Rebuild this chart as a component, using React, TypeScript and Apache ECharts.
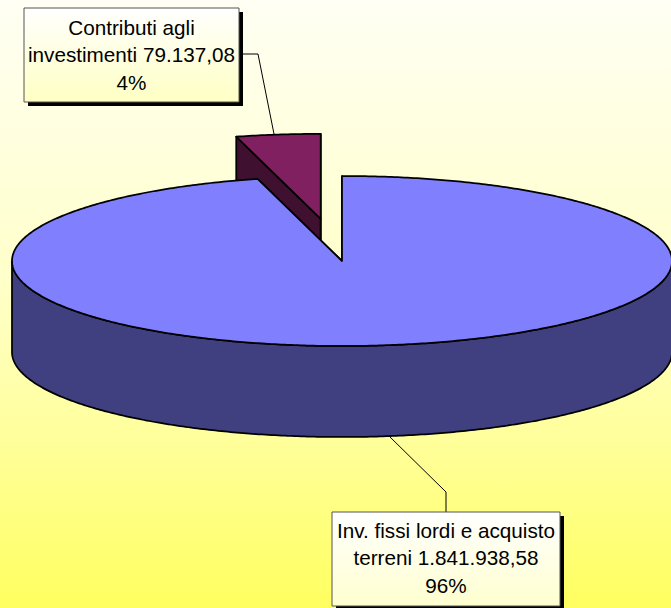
import React, { useEffect, useRef } from "react";
import * as echarts from "echarts";

const categories = ["Contributi agli investimenti", "Inv. fissi lordi e acquisto terreni"];
const values = [79137.08, 1841938.58];
const explode = [0.5, 0];
const topColors = ["#802060", "#8080FF"];
const sideColors = ["#401030", "#404080"];
const labelLines = [
  ["Contributi agli", "investimenti"],
  ["Inv. fissi lordi e acquisto", "terreni"],
];

const CX = 342;
const CY = 261;
const RX = 330;
const RY = 85;
const DEPTH = 91;
const total = values.reduce((a, b) => a + b, 0);

const fmt = (v: number) => {
  const [i, d] = v.toFixed(2).split(".");
  return i.replace(/\B(?=(\d{3})+$)/g, ".") + "," + d;
};

// Slices run counter-clockwise from 12 o'clock in data order, so the small slice sits left of the top.
const slices = values.map((v, idx) => {
  const before = values.slice(0, idx).reduce((a, b) => a + b, 0);
  const end = -(before / total) * 2 * Math.PI;
  const start = -((before + v) / total) * 2 * Math.PI;
  return { start, end, mid: (start + end) / 2 };
});

function boxGraphic(
  x: number, y: number, w: number, h: number,
  lines: string[], lineCenters: number[], stops: [string, string]
) {
  const cx = x + w / 2;
  return [
    { type: "rect", shape: { x: x + 4, y: y + 4, width: w, height: h }, style: { fill: "#000" }, silent: true },
    {
      type: "rect",
      shape: { x, y, width: w, height: h },
      style: {
        fill: new echarts.graphic.LinearGradient(0, 0, 0, 1, [
          { offset: 0, color: stops[0] },
          { offset: 1, color: stops[1] },
        ]),
        stroke: "#555",
        lineWidth: 1,
      },
      silent: true,
    },
    ...lines.map((t, i) => ({
      type: "text",
      style: {
        text: t,
        x: cx,
        y: lineCenters[i],
        fill: "#000",
        font: '20.7px "Liberation Sans", Arial, sans-serif',
        textAlign: "center",
        textVerticalAlign: "middle",
      },
      silent: true,
    })),
  ];
}

function renderSlice(params: any) {
  const i = params.dataIndex;
  const { start, end, mid } = slices[i];
  const k = explode[i];
  const ox = CX + k * RX * Math.sin(mid);
  const oy = CY - k * RY * Math.cos(mid);
  const pt = (a: number, dy = 0): number[] => [ox + RX * Math.sin(a), oy - RY * Math.cos(a) + dy];
  const arc = (a0: number, a1: number, dy = 0) => {
    const n = Math.max(2, Math.ceil(Math.abs(a1 - a0) / 0.01));
    return Array.from({ length: n + 1 }, (_, j) => pt(a0 + ((a1 - a0) * j) / n, dy));
  };
  const base = { stroke: "#000", lineWidth: 1.75, lineJoin: "round" };
  const face = (a: number) => ({
    type: "polygon",
    silent: true,
    shape: { points: [[ox, oy], pt(a), pt(a, DEPTH), [ox, oy + DEPTH]] },
    style: { ...base, fill: sideColors[i] },
  });
  const children: any[] = [face(start), face(end)];
  // outer wall: only the front half of the rim is visible
  const ranges: [number, number][] = [];
  for (const shift of [-2 * Math.PI, 0]) {
    const a0 = Math.max(start, Math.PI / 2 + shift);
    const a1 = Math.min(end, (3 * Math.PI) / 2 + shift);
    if (a1 > a0) ranges.push([a0, a1]);
  }
  ranges.forEach(([a0, a1]) => {
    children.push({
      type: "polygon",
      silent: true,
      shape: { points: [...arc(a0, a1), ...arc(a1, a0, DEPTH)] },
      style: { ...base, fill: sideColors[i] },
    });
  });
  children.push({
    type: "polygon",
    silent: true,
    shape: { points: [[ox, oy], ...arc(start, end)] },
    style: { ...base, fill: topColors[i] },
  });
  return { type: "group", children };
}

export default function App() {
  const ref = useRef<HTMLDivElement>(null);
  useEffect(() => {
    document.body.style.margin = "0";
    document.body.style.overflow = "hidden";
    const chart = echarts.init(ref.current!, undefined, { renderer: "svg", width: 671, height: 608 });
    const text = (i: number) => {
      const lines = [...labelLines[i]];
      lines[1] = lines[1] + " " + fmt(values[i]);
      lines.push(Math.round((values[i] / total) * 100) + "%");
      return lines;
    };
    const leader = (points: number[][]) => ({
      type: "polyline",
      shape: { points },
      style: { stroke: "#000", lineWidth: 1, fill: "none" },
      silent: true,
    });
    chart.setOption({
      animation: false,
      backgroundColor: new echarts.graphic.LinearGradient(0, 0, 0, 1, [
        { offset: 0, color: "#FFFFF4" },
        { offset: 0.46, color: "#FFFFCA" },
        { offset: 0.72, color: "#FFFF9C" },
        { offset: 1, color: "#FFFF60" },
      ]),
      series: [
        {
          type: "custom",
          coordinateSystem: "none",
          renderItem: renderSlice,
          data: categories.map((name, i) => ({ name, value: values[i] })),
          silent: true,
        },
      ],
      graphic: {
        elements: [
          leader([[239, 54], [258, 54], [274, 134]]),
          leader([[390, 437], [446, 492], [446, 512]]),
          ...boxGraphic(24, 8, 215, 94, text(0), [27, 54, 82], ["#FFFFFF", "#FFFFC4"]),
          ...boxGraphic(332, 512, 228, 94, text(1), [530, 557, 585], ["#FFFFFF", "#FFFFD0"]),
        ],
      },
    });
    return () => chart.dispose();
  }, []);
  return <div ref={ref} style={{ width: 671, height: 608 }} />;
}
